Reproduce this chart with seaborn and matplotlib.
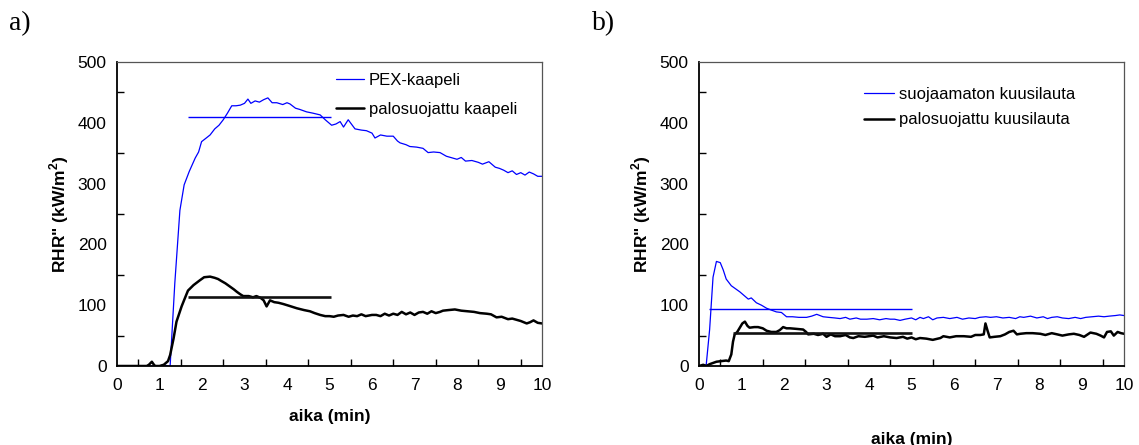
import numpy as np
import pandas as pd
import matplotlib
matplotlib.use("Agg")
import matplotlib.pyplot as plt
from matplotlib.ticker import MultipleLocator
import seaborn as sns

# ---------------- data ----------------
# a) PEX cable
a_pex_t = [0, 1.0, 1.1, 1.2, 1.25, 1.36, 1.48, 1.58, 1.7, 1.84, 1.92, 1.99, 2.1, 2.19, 2.3, 2.4,
           2.5, 2.6, 2.7, 2.8, 2.9, 3.0, 3.08, 3.15, 3.25, 3.35, 3.45, 3.55, 3.65, 3.76, 3.9, 4.0,
           4.07, 4.2, 4.3, 4.46, 4.6, 4.78, 4.9, 5.05, 5.15, 5.25, 5.33, 5.44, 5.6, 5.75, 5.87, 6.0,
           6.07, 6.2, 6.35, 6.5, 6.6, 6.66, 6.8, 6.89, 7.05, 7.2, 7.32, 7.45, 7.6, 7.75, 7.9, 8.0,
           8.1, 8.2, 8.35, 8.5, 8.6, 8.75, 8.9, 9.0, 9.1, 9.2, 9.3, 9.4, 9.5, 9.6, 9.7, 9.8, 9.9, 10.0]
a_pex_v = [0, 0, 2, 0, 0, 136, 256, 298, 320, 342, 352, 369, 375, 380, 390, 396,
           405, 416, 428, 428, 429, 432, 439, 432, 436, 434, 438, 441, 433, 433, 430, 433,
           431, 424, 422, 418, 416, 413, 405, 396, 398, 402, 393, 405, 390, 388, 387, 383,
           375, 380, 378, 378, 370, 367, 364, 361, 360, 358, 351, 352, 351, 345, 342, 340,
           343, 337, 338, 335, 332, 336, 327, 325, 322, 318, 321, 315, 318, 314, 319, 316, 312, 312]

# a) fire-protected cable
a_pro_t = [0, 0.7, 0.75, 0.82, 0.87, 0.9, 1.0, 1.1, 1.2, 1.25, 1.33, 1.4, 1.52, 1.6, 1.67, 1.8,
           1.95, 2.05, 2.19, 2.3, 2.38, 2.45, 2.55, 2.65, 2.75, 2.82, 2.9, 2.97, 3.1, 3.2, 3.28,
           3.38, 3.45, 3.52, 3.6, 3.7, 3.8, 3.91, 4.05, 4.23, 4.4, 4.54, 4.65, 4.78, 4.9, 5.0,
           5.1, 5.2, 5.33, 5.45, 5.55, 5.65, 5.75, 5.85, 6.0, 6.1, 6.2, 6.3, 6.4, 6.5, 6.6, 6.7,
           6.8, 6.9, 7.0, 7.1, 7.2, 7.3, 7.4, 7.5, 7.6, 7.67, 7.8, 7.95, 8.1, 8.25, 8.4, 8.54,
           8.7, 8.8, 8.93, 9.05, 9.2, 9.3, 9.4, 9.5, 9.64, 9.72, 9.8, 9.9, 10.0]
a_pro_v = [0, 0, 2, 7, 2, 0, 0, 2, 8, 18, 45, 73, 98, 112, 124, 133,
           141, 146, 147, 145, 143, 140, 136, 131, 126, 122, 118, 115, 115, 113, 115,
           112, 108, 98, 108, 105, 104, 102, 99, 95, 92, 90, 87, 84, 82, 82,
           81, 83, 84, 81, 83, 82, 85, 82, 84, 84, 82, 86, 83, 86, 84, 89,
           85, 88, 84, 88, 89, 86, 90, 87, 89, 91, 92, 93, 91, 90, 89, 87,
           86, 85, 80, 81, 77, 78, 76, 74, 70, 72, 75, 71, 70]

# b) unprotected spruce board
b_unp_t = [0, 0.17, 0.25, 0.33, 0.41, 0.5, 0.57, 0.64, 0.76, 0.86, 0.96, 1.06, 1.16, 1.23, 1.35,
           1.47, 1.59, 1.7, 1.82, 1.94, 2.06, 2.2, 2.35, 2.53, 2.65, 2.77, 2.92, 3.05, 3.2, 3.32,
           3.45, 3.55, 3.7, 3.8, 3.95, 4.1, 4.25, 4.4, 4.5, 4.6, 4.73, 4.85, 5.0, 5.1, 5.2, 5.28,
           5.4, 5.5, 5.6, 5.75, 5.9, 6.07, 6.2, 6.35, 6.5, 6.6, 6.75, 6.86, 7.0, 7.15, 7.3, 7.45,
           7.55, 7.64, 7.8, 7.95, 8.1, 8.2, 8.3, 8.43, 8.55, 8.7, 8.85, 8.98, 9.1, 9.25, 9.4, 9.53,
           9.65, 9.8, 9.9, 10.0]
b_unp_v = [0, 2, 60, 146, 172, 170, 158, 143, 132, 127, 122, 116, 110, 112, 104,
           100, 95, 92, 89, 88, 81, 81, 80, 80, 82, 85, 81, 80, 79, 78,
           80, 77, 79, 77, 77, 78, 76, 78, 77, 77, 75, 77, 79, 76, 80, 78,
           81, 76, 79, 80, 78, 80, 77, 79, 78, 80, 81, 80, 81, 79, 80, 78,
           81, 80, 82, 79, 81, 78, 80, 81, 79, 78, 80, 78, 80, 81, 82, 81,
           82, 83, 84, 83]

# b) fire-protected spruce board
b_pro_t = [0, 0.1, 0.17, 0.25, 0.33, 0.41, 0.52, 0.64, 0.7, 0.76, 0.8, 0.84, 0.9, 0.96, 1.02,
           1.08, 1.14, 1.19, 1.3, 1.39, 1.5, 1.59, 1.7, 1.82, 1.9, 1.98, 2.06, 2.14, 2.3, 2.45,
           2.52, 2.57, 2.7, 2.8, 2.92, 3.0, 3.1, 3.2, 3.32, 3.45, 3.55, 3.63, 3.75, 3.9, 4.0, 4.1,
           4.2, 4.35, 4.5, 4.65, 4.8, 4.9, 5.0, 5.1, 5.2, 5.35, 5.5, 5.68, 5.75, 5.9, 6.05, 6.23,
           6.4, 6.5, 6.62, 6.7, 6.74, 6.79, 6.84, 6.95, 7.09, 7.2, 7.3, 7.4, 7.48, 7.56, 7.7, 7.85,
           8.03, 8.15, 8.3, 8.43, 8.55, 8.7, 8.82, 8.95, 9.06, 9.21, 9.35, 9.45, 9.53, 9.6, 9.69,
           9.76, 9.85, 9.93, 10.0]
b_pro_v = [0, 2, 0, 3, 5, 7, 8, 9, 8, 19, 40, 52, 56, 63, 70,
           73, 66, 63, 64, 64, 62, 58, 56, 56, 59, 64, 62, 62, 61, 60,
           56, 52, 53, 51, 53, 48, 52, 49, 49, 51, 47, 46, 49, 48, 49, 50,
           47, 49, 47, 46, 48, 45, 47, 44, 46, 45, 43, 46, 49, 47, 49, 49,
           48, 51, 51, 52, 70, 58, 47, 48, 49, 52, 56, 58, 52, 53, 54, 54,
           53, 51, 54, 52, 50, 52, 53, 51, 48, 55, 53, 50, 47, 56, 57,
           50, 56, 54, 53]

# average levels: (start, end, value)
a_avg_start = [1.68, 1.68]
a_avg_end = [5.03, 5.03]
a_avg_val = [410, 113]
b_avg_start = [0.24, 0.8]
b_avg_end = [5.0, 5.0]
b_avg_val = [93, 54]

a_labels = ["PEX-kaapeli", "palosuojattu kaapeli"]
b_labels = ["suojaamaton kuusilauta", "palosuojattu kuusilauta"]
panel_letters = ["a)", "b)"]
x_ticks = list(range(0, 11))
y_ticks = [0, 100, 200, 300, 400, 500]

# ---------------- style ----------------
sns.set_theme(style="white")
plt.rcParams["font.family"] = ["Liberation Sans", "DejaVu Sans"]
plt.rcParams["mathtext.fontset"] = "custom"
plt.rcParams["mathtext.rm"] = "Liberation Sans"
plt.rcParams["mathtext.bf"] = "Liberation Sans:bold"
for k in ["text.color", "axes.labelcolor", "xtick.color", "ytick.color"]:
    plt.rcParams[k] = "black"

fig = plt.figure(figsize=(11.39, 4.45), dpi=100)
ax_a = fig.add_axes([117 / 1139, 79 / 445, 425 / 1139, 304 / 445])
ax_b = fig.add_axes([699 / 1139, 79 / 445, 425 / 1139, 304 / 445])

BLUE = "#0000ff"
TICK_FS = 12.5
LAB_FS = 12.5


def draw(ax, t1, v1, t2, v2, starts, ends, vals, labels):
    d1 = pd.DataFrame({"t": t1, "v": v1})
    d2 = pd.DataFrame({"t": t2, "v": v2})
    sns.lineplot(data=d1, x="t", y="v", ax=ax, color=BLUE, lw=0.9, label=labels[0])
    sns.lineplot(data=d2, x="t", y="v", ax=ax, color="black", lw=1.8, label=labels[1])
    ax.hlines(vals[0], starts[0], ends[0], color=BLUE, lw=1.0)
    ax.hlines(vals[1], starts[1], ends[1], color="#111111", lw=1.9)
    ax.set_xlim(0, 10)
    ax.set_ylim(0, 500)
    ax.set_xticks(x_ticks)
    ax.set_yticks(y_ticks)
    ax.xaxis.set_minor_locator(MultipleLocator(0.5))
    ax.yaxis.set_minor_locator(MultipleLocator(50))
    ax.tick_params(axis="x", which="major", direction="inout", length=11, width=1,
                   color="black", labelsize=TICK_FS, pad=3)
    ax.tick_params(axis="y", which="major", direction="inout", length=11, width=1,
                   color="black", labelsize=TICK_FS, pad=2)
    ax.tick_params(which="minor", direction="in", length=5, width=1, color="black",
                   bottom=True, left=True)
    ax.tick_params(which="both", top=False, right=False)
    for s in ["left", "bottom"]:
        ax.spines[s].set_color("black")
        ax.spines[s].set_linewidth(1.3)
    for s in ["top", "right"]:
        ax.spines[s].set_color("#555555")
        ax.spines[s].set_linewidth(0.9)
    ax.set_ylabel('RHR" (kW/m$^\\mathbf{2}$)', fontsize=LAB_FS, fontweight="bold", labelpad=5)


draw(ax_a, a_pex_t, a_pex_v, a_pro_t, a_pro_v, a_avg_start, a_avg_end, a_avg_val, a_labels)
draw(ax_b, b_unp_t, b_unp_v, b_pro_t, b_pro_v, b_avg_start, b_avg_end, b_avg_val, b_labels)

ax_a.set_xlabel("aika (min)", fontsize=LAB_FS, fontweight="bold", labelpad=12)
ax_b.set_xlabel("aika (min)", fontsize=LAB_FS, fontweight="bold", labelpad=28)

ax_a.legend(loc="upper left", bbox_to_anchor=(0.489, 1.0), frameon=False, fontsize=12,
            handlelength=1.7, handletextpad=0.3, labelspacing=0.85, borderaxespad=0.25)
ax_b.legend(loc="upper left", bbox_to_anchor=(0.363, 0.955), frameon=False, fontsize=12,
            handlelength=1.8, handletextpad=0.3, labelspacing=0.65, borderaxespad=0.25)

fig.text(9 / 1139, 1 - 30 / 445, panel_letters[0], fontsize=20, family="Liberation Serif")
fig.text(592 / 1139, 1 - 30 / 445, panel_letters[1], fontsize=20, family="Liberation Serif")

fig.savefig("out.png", dpi=100)
